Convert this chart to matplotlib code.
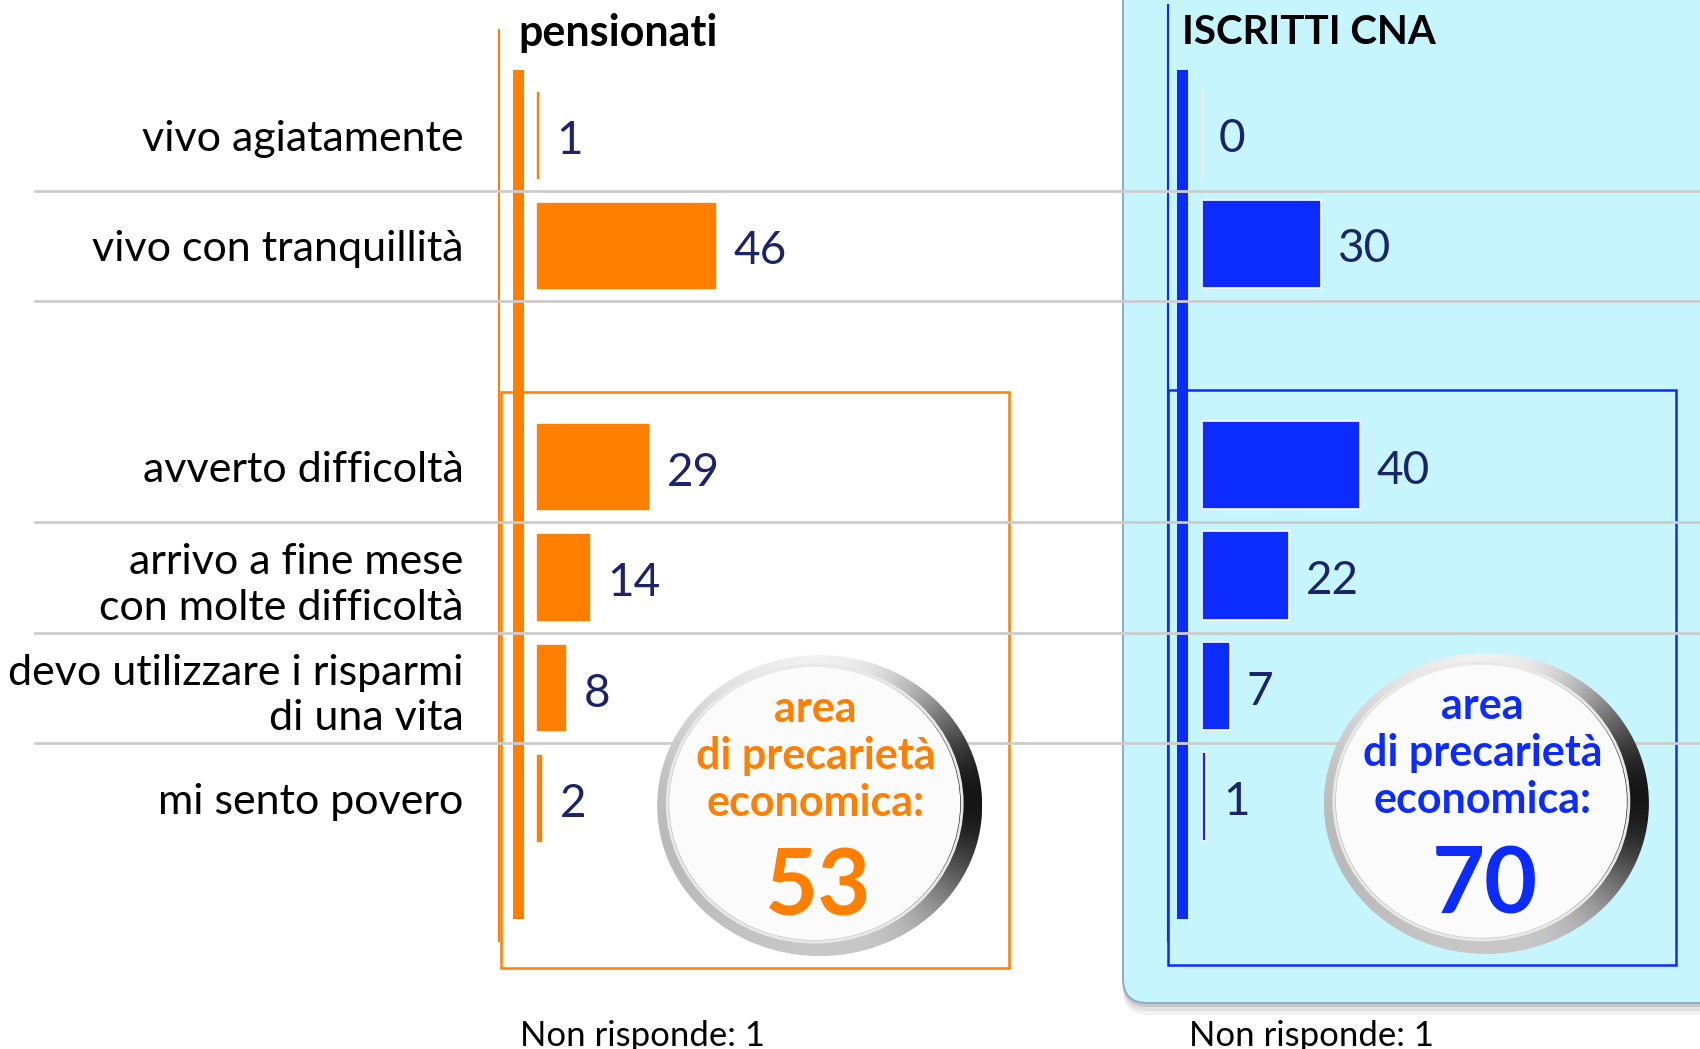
import numpy as np
import matplotlib
matplotlib.use("Agg")
import matplotlib.pyplot as plt
from matplotlib.patches import Rectangle, Ellipse, FancyBboxPatch
from matplotlib.lines import Line2D
import matplotlib.transforms as mtransforms

# dati
categorie = ["vivo agiatamente", "vivo con tranquillità", "avverto difficoltà",
             "arrivo a fine mese\ncon molte difficoltà",
             "devo utilizzare i risparmi\ndi una vita", "mi sento povero"]
posizioni = [0, 1, 3, 4, 5, 6]          # riga 2 vuota
pensionati = [1, 46, 29, 14, 8, 2]
iscritti_cna = [0, 30, 40, 22, 7, 1]
area_pensionati = 53
area_cna = 70
non_risponde = [1, 1]
separatori = [0.5, 1.5, 3.5, 4.5, 5.5]

ARANCIO = "#ff7f00"
BLU = "#0c2cff"
NAVY = "#1a2466"
CIANO = "#c6f5fd"
FONT = ["Lato", "DejaVu Sans"]
FONT_T = ["Liberation Sans Narrow", "Lato", "DejaVu Sans"]

W, H = 1700, 1049
fig = plt.figure(figsize=(W / 100, H / 100), dpi=100)

# assi di sfondo in pixel (decorazioni)
bg = fig.add_axes([0, 0, 1, 1], zorder=0)
bg.set_xlim(0, W)
bg.set_ylim(H, 0)
bg.axis("off")

def px_axes(left, top, width, height):
    return fig.add_axes([left / W, 1 - (top + height) / H, width / W, height / H], zorder=1)

ax1 = px_axes(535.6, 80, 394, 774)
ax2 = px_axes(1202.4, 78, 394, 774)

# pannello ciano
for k, a in [(12, 0.10), (8, 0.15), (4, 0.25)]:
    bg.add_patch(FancyBboxPatch((1123, -40), 700, 1043 + k, boxstyle="round,pad=0,rounding_size=24",
                                fc="#808080", ec="none", alpha=a, zorder=0))
bg.add_patch(FancyBboxPatch((1123, -40), 700, 1043, boxstyle="round,pad=0,rounding_size=24",
                            fc=CIANO, ec="#8fb0c4", lw=1.5, zorder=1))

for ax, vals, col, tline_x, tbar_x, title, box in [
        (ax1, pensionati, ARANCIO, 499, 513, "pensionati", (501, 392, 508, 576)),
        (ax2, iscritti_cna, BLU, 1167.7, 1177, "ISCRITTI CNA", (1167.7, 390, 508, 575))]:
    ax.patch.set_alpha(0)
    ax.barh(posizioni, vals, height=0.8, color=col, edgecolor="white", linewidth=1.2)
    ax.set_xlim(0, 100)
    ax.set_ylim(6.5, -0.5)
    for s in ax.spines.values():
        s.set_visible(False)
    ax.set_xticks([])
    ax.tick_params(axis="y", length=0)
    for p, v in zip(posizioni, vals):
        ax.annotate(str(v), (v, p), xytext=(12, -4), textcoords="offset points",
                    ha="left", va="center", fontsize=33, color=NAVY, family=FONT)
    # linee verticali
    bg.add_line(Line2D([tline_x, tline_x], [30 if col == ARANCIO else 5, 941], color=col, lw=1.5, zorder=2))
    bg.add_patch(Rectangle((tbar_x, 70), 11.5, 849, fc=col, ec="none", zorder=2))
    bg.add_patch(Rectangle(box[:2], box[2], box[3], fill=False, ec=col, lw=1.8, zorder=2))
    bg.text(tbar_x + 5, 33, title, fontsize=31 if col == ARANCIO else 29, fontweight="bold",
            family=FONT_T, ha="left", va="center", zorder=5)

ax1.set_yticks(posizioni, categorie, fontsize=31, family=FONT, linespacing=1.25)
ax1.tick_params(axis="y", pad=52)
ax2.set_yticks([])

# linee di separazione grigie
trans = mtransforms.blended_transform_factory(bg.transAxes, ax1.transData)
for s in separatori:
    bg.add_line(Line2D([35 / W, 1], [s, s], transform=trans, color="#cccccc", lw=2, zorder=3))

# bottoni circolari
def bottone(cx, cy, col, valore):
    w, h = 325, 301
    outer = Ellipse((cx, cy), w, h, fc="none", ec="none", zorder=4)
    bg.add_patch(outer)
    xx, yy = np.meshgrid(np.linspace(-1, 1, 240), np.linspace(-1, 1, 240))
    th = np.arctan2(-yy, xx)
    v = 0.86 - 0.78 * np.clip(np.cos(th - 0.08), 0, None) ** 3 + 0.08 * np.sin(th) \
        - 0.12 * np.clip(np.cos(th - np.pi), 0, None) ** 2
    bg.imshow(np.clip(v, 0, 1), cmap="gray", vmin=0, vmax=1, extent=(cx - w / 2, cx + w / 2, cy + h / 2, cy - h / 2),
              interpolation="bilinear", clip_path=outer, zorder=4, aspect="auto")
    bg.add_patch(Ellipse((cx - 5, cy - 2), w - 34, h - 28, fc="#fbfbfb", ec="none", zorder=5))
    bg.add_patch(Ellipse((cx - 5, cy - 2), w - 30, h - 24, fc="none", ec="#e8e8e8", lw=2, zorder=5))
    bg.set_xlim(0, W)
    bg.set_ylim(H, 0)
    for dy, t in [(-97, "area"), (-50, "di precarietà"), (-3, "economica:")]:
        bg.text(cx - 4, cy + dy, t, fontsize=31, fontweight="bold", color=col, family=FONT,
                ha="center", va="center", zorder=6)
    bg.text(cx - 2, cy + 84, str(valore), fontsize=66, fontweight="bold", color=col, family=FONT,
            ha="center", va="center", zorder=6)

bottone(819.7, 805.6, ARANCIO, area_pensionati)
bottone(1486.4, 803.4, BLU, area_cna)

for x0, n in zip([520, 1189], non_risponde):
    bg.text(x0, 1036, f"Non risponde: {n}", fontsize=25, family=FONT, ha="left", va="center", zorder=6)

fig.savefig("out.png", dpi=100)
